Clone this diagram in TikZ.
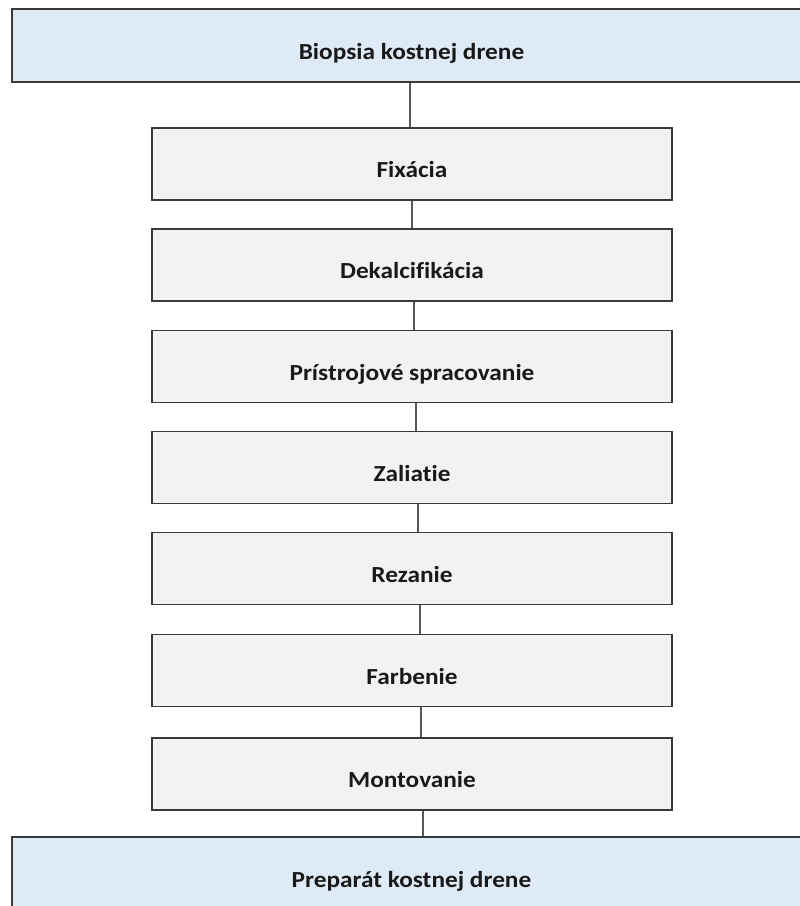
\documentclass[tikz,border=0pt]{standalone}
\usepackage{fontspec}
\setmainfont[Ligatures=NoCommon, BoldFeatures={FakeStretch=1.1}]{Carlito}
\definecolor{bluefill}{HTML}{DEEAF6}
\definecolor{grayfill}{HTML}{F2F2F2}
\definecolor{edge}{HTML}{3A3A3A}
\definecolor{conn}{HTML}{595959}
\begin{document}
\begin{tikzpicture}[x=1pt,y=-1pt,
  every node/.style={font=\fontsize{23}{27}\selectfont\bfseries, text=black!90,
    text height=27pt, text depth=0pt, inner sep=0pt},
  endbox/.style={draw=edge, line width=1.8pt, fill=bluefill, minimum width=799pt, minimum height=73pt},
  stepbox/.style={draw=edge, line width=1.8pt, fill=grayfill, minimum width=520pt, minimum height=72pt},
  link/.style={draw=conn, line width=1.5pt}]
\useasboundingbox (0,0) rectangle (800,906);
\clip (0,0) rectangle (800,906);
\node[endbox] (top) at (411.5,45.5) {Biopsia kostnej drene};
\node[stepbox] (s1) at (412,164) {Fixácia};
\node[stepbox] (s2) at (412,265) {Dekalcifikácia};
\node[stepbox] (s3) at (412,366.5) {Prístrojové spracovanie};
\node[stepbox] (s4) at (412,467.5) {Zaliatie};
\node[stepbox] (s5) at (412,568.5) {Rezanie};
\node[stepbox] (s6) at (412,670.5) {Farbenie};
\node[stepbox] (s7) at (412,774) {Montovanie};
\node[endbox] (bot) at (411.5,873.5) {Preparát kostnej drene};
\draw[link] ([xshift=-1.5pt]top.south) -- ([xshift=-2pt]s1.north);
\draw[link] ([xshift=0pt]s1.south) -- ([xshift=0pt]s2.north);
\draw[link] ([xshift=2pt]s2.south) -- ([xshift=2pt]s3.north);
\draw[link] ([xshift=4pt]s3.south) -- ([xshift=4pt]s4.north);
\draw[link] ([xshift=6pt]s4.south) -- ([xshift=6pt]s5.north);
\draw[link] ([xshift=8pt]s5.south) -- ([xshift=8pt]s6.north);
\draw[link] ([xshift=9pt]s6.south) -- ([xshift=9pt]s7.north);
\draw[link] ([xshift=11pt]s7.south) -- ([xshift=11.5pt]bot.north);
\end{tikzpicture}
\end{document}
